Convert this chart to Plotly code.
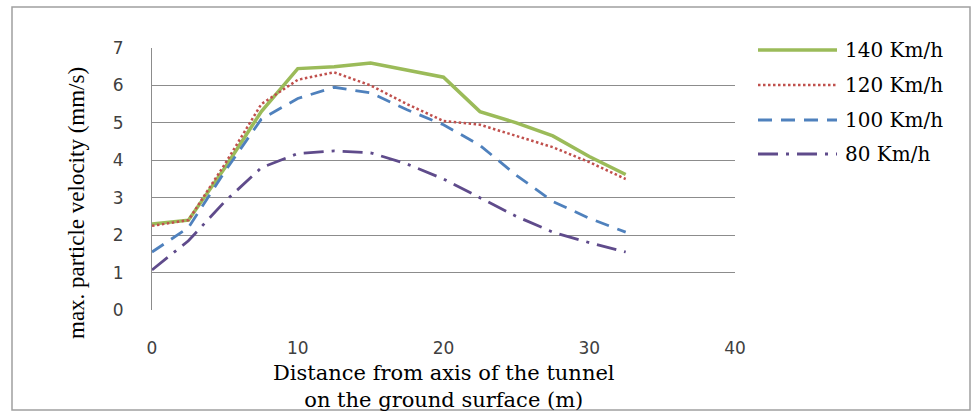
import plotly.graph_objects as go

distance = [0, 2.5, 5, 7.5, 10, 12.5, 15, 17.5, 20, 22.5, 25, 27.5, 30, 32.5]
v140 = [2.3, 2.4, 3.8, 5.3, 6.45, 6.5, 6.6, 6.42, 6.22, 5.3, 5.0, 4.65, 4.1, 3.62]
v120 = [2.25, 2.4, 3.9, 5.5, 6.15, 6.35, 6.0, 5.5, 5.05, 4.95, 4.65, 4.35, 3.95, 3.5]
v100 = [1.55, 2.2, 3.7, 5.1, 5.65, 5.95, 5.8, 5.35, 4.95, 4.4, 3.6, 2.9, 2.45, 2.08]
v80 = [1.07, 1.85, 2.9, 3.8, 4.18, 4.25, 4.2, 3.9, 3.5, 3.0, 2.5, 2.08, 1.8, 1.55]

names = ["140 Km/h", "120 Km/h", "100 Km/h", "80 Km/h"]
series = [v140, v120, v100, v80]
colors = ["#9BBB59", "#C0504D", "#4F81BD", "#5F4B8B"]
dashes = ["solid", "2.5px,2.5px", "14px,9px", "20px,8px,3px,8px"]
widths = [3.5, 2.5, 2.8, 2.8]

x_ticks = [0, 10, 20, 30, 40]
y_ticks = [0, 1, 2, 3, 4, 5, 6, 7]

fig = go.Figure()
for n, s, c, d, w in zip(names, series, colors, dashes, widths):
    fig.add_trace(go.Scatter(x=distance, y=s, mode="lines", name=n,
                             line=dict(color=c, dash=d, width=w)))

tick_font = dict(family="DejaVu Sans, sans-serif", size=17, color="#404040")
fig.update_layout(
    width=972, height=412,
    margin=dict(l=152, r=237, t=48, b=102),
    paper_bgcolor="white", plot_bgcolor="white",
    showlegend=False,
    xaxis=dict(range=[0, 40], tickvals=x_ticks, showgrid=False, zeroline=False,
               showline=False, ticks="", tickfont=tick_font, ticklabelstandoff=26),
    yaxis=dict(range=[0, 7], tickvals=y_ticks, showgrid=True, gridcolor="#8C8C8C",
               gridwidth=1, zeroline=False, showline=True, linecolor="#8C8C8C",
               linewidth=1, ticks="", tickfont=tick_font, ticklabelstandoff=24),
)

serif = "DejaVu Serif, serif"
fig.add_annotation(xref="paper", yref="paper", x=0.5, y=(310 - 359) / 262, yanchor="top",
                   text="Distance from axis of the tunnel<br>on the ground surface (m)",
                   showarrow=False, font=dict(family=serif, size=21, color="#000000"))
fig.add_annotation(xref="paper", yref="paper", x=(77 - 152) / 583, y=(310 - 203) / 262,
                   textangle=-90, xanchor="center", yanchor="middle",
                   text="max. particle velocity (mm/s)", showarrow=False,
                   font=dict(family="Liberation Serif, serif", size=23, color="#000000"))

# outer frame
fig.add_shape(type="rect", xref="paper", yref="paper",
              x0=(12 - 152) / 583, x1=(970 - 152) / 583,
              y0=(310 - 410) / 262, y1=(310 - 7) / 262,
              line=dict(color="#A0A0A0", width=1.5), layer="below")

# manual legend
rows = [50, 85, 120, 154]
for n, c, d, w, yy in zip(names, colors, dashes, widths, rows):
    yp = (310 - yy) / 262
    fig.add_shape(type="line", xref="paper", yref="paper",
                  x0=(758 - 152) / 583, x1=(837 - 152) / 583, y0=yp, y1=yp,
                  line=dict(color=c, dash=d, width=w))
    fig.add_annotation(xref="paper", yref="paper", x=(843 - 152) / 583, y=yp,
                       xanchor="left", yanchor="middle", text=n, showarrow=False,
                       font=dict(family=serif, size=20, color="#000000"))

fig.write_html("out.html")
